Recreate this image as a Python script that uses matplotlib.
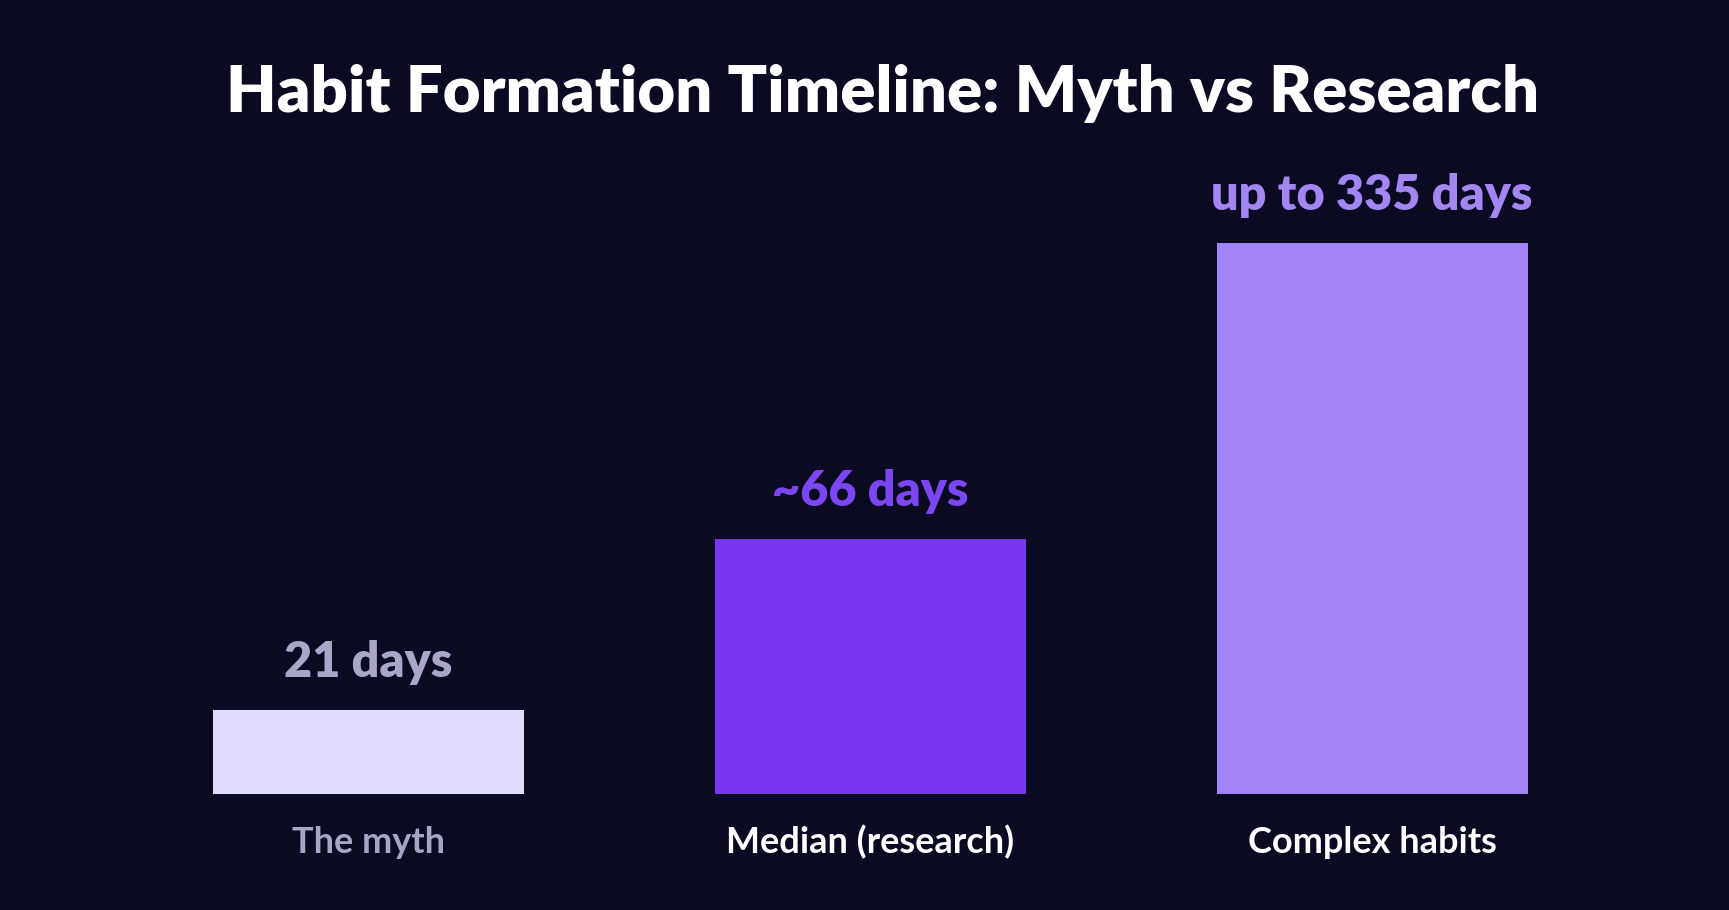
import matplotlib
matplotlib.use("Agg")
import matplotlib.pyplot as plt

# Data
categories = ["The myth", "Median (research)", "Complex habits"]
value_labels = ["21 days", "~66 days", "up to 335 days"]
# bar heights as drawn in the picture (relative, tallest = 100)
bar_heights = [15.2, 46.3, 100]

bar_colors = ["#e0dbfb", "#7636f4", "#a384f4"]
value_colors = ["#a9a6c8", "#7c46f2", "#a386f2"]
cat_colors = ["#a8a5c4", "#ffffff", "#ffffff"]
bg = "#0a0a22"

plt.rcParams["font.family"] = ["Lato", "DejaVu Sans"]

fig = plt.figure(figsize=(17.29, 9.10), dpi=100, facecolor=bg)
ax = fig.add_axes([0.068, 0.1275, 0.8707, 0.6055])
ax.set_facecolor(bg)

x = range(len(categories))
ax.bar(x, bar_heights, width=0.62, color=bar_colors, edgecolor="none")
ax.set_xlim(-0.5, len(categories) - 0.5)
ax.set_ylim(0, 100)
ax.axis("off")

for i, h in enumerate(bar_heights):
    ax.annotate(value_labels[i], (i, h), xytext=(0, 33), textcoords="offset pixels",
                ha="center", va="baseline", fontsize=35, fontweight="heavy",
                color=value_colors[i])
    ax.annotate(categories[i], (i, 0), xytext=(0, -59), textcoords="offset pixels",
                ha="center", va="baseline", fontsize=26, fontweight="bold",
                color=cat_colors[i])

fig.text(0.5105, 1 - 112 / 910, "Habit Formation Timeline: Myth vs Research",
         ha="center", va="baseline", fontsize=47, fontweight="heavy", color="#ffffff")

fig.savefig("out.png", dpi=100, facecolor=bg)
